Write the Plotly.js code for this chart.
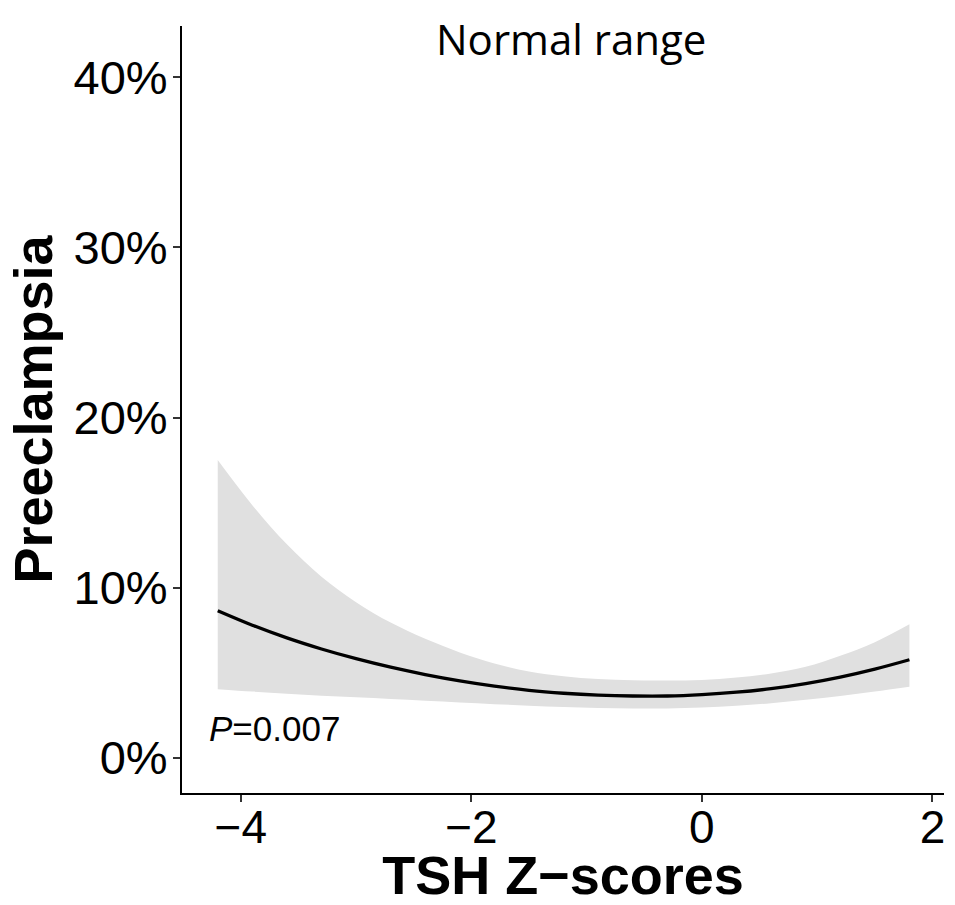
<!DOCTYPE html>
<html>
<head>
<meta charset="utf-8">
<script src="https://cdn.plot.ly/plotly-3.0.1.min.js"></script>
<style>html,body{margin:0;padding:0;background:#fff;}#chart{width:955px;height:905px;}</style>
</head>
<body>
<div id="chart"></div>
<script>
const tshZ = [-4.2, -3.9, -3.6, -3.3, -3.0, -2.7, -2.4, -2.1, -1.8, -1.5, -1.2, -0.9, -0.6, -0.3, 0, 0.3, 0.6, 0.9, 1.2, 1.5, 1.8];
const fitPct = [8.65, 7.8, 7.05, 6.4, 5.83, 5.33, 4.9, 4.53, 4.22, 3.97, 3.8, 3.69, 3.64, 3.64, 3.72, 3.86, 4.07, 4.37, 4.75, 5.22, 5.77];
const upperPct = [17.5, 14.85, 12.55, 10.65, 9.15, 7.95, 7.0, 6.2, 5.55, 5.08, 4.8, 4.63, 4.56, 4.55, 4.58, 4.72, 4.96, 5.35, 6.0, 6.8, 7.85];
const lowerPct = [4.04, 3.9, 3.77, 3.66, 3.56, 3.46, 3.36, 3.26, 3.16, 3.07, 2.99, 2.93, 2.9, 2.91, 2.96, 3.06, 3.22, 3.42, 3.64, 3.9, 4.18];
const xTicks = [-4, -2, 0, 2];
const yTicks = [0, 10, 20, 30, 40];
const yTickLabels = ['0%', '10%', '20%', '30%', '40%'];
const panelLabel = 'Normal range';
const pLabel = '<i>P</i>=0.007';

const traces = [
  {x: tshZ, y: lowerPct, type: 'scatter', mode: 'lines', line: {width: 0, shape: 'spline', color: 'rgba(0,0,0,0)'}, hoverinfo: 'skip', showlegend: false},
  {x: tshZ, y: upperPct, type: 'scatter', mode: 'lines', fill: 'tonexty', fillcolor: '#e0e0e0', line: {width: 0, shape: 'spline', color: 'rgba(0,0,0,0)'}, hoverinfo: 'skip', showlegend: false},
  {x: tshZ, y: fitPct, type: 'scatter', mode: 'lines', line: {width: 3.3, shape: 'spline', color: '#000'}, showlegend: false}
];

const layout = {
  width: 955, height: 905,
  paper_bgcolor: '#fff', plot_bgcolor: '#fff',
  margin: {l: 182, r: 11, t: 26, b: 112},
  font: {family: 'Liberation Sans, Arial, sans-serif', color: '#000'},
  xaxis: {
    range: [-4.51, 2.10], tickvals: xTicks, ticks: 'outside', ticklen: 7, tickwidth: 2, tickcolor: '#333',
    showline: true, linecolor: '#000', linewidth: 2, showgrid: false, zeroline: false,
    tickfont: {size: 46, color: '#000'}, ticklabelstandoff: -14,
    title: {text: 'TSH Z\u2212scores', font: {size: 54, color: '#000', family: 'Liberation Sans, Arial, sans-serif', weight: 'bold'}, standoff: 6}
  },
  yaxis: {
    range: [-2.06, 43.0], tickvals: yTicks, ticktext: yTickLabels, ticks: 'outside', ticklen: 7, tickwidth: 2, tickcolor: '#333',
    showline: true, linecolor: '#000', linewidth: 2, showgrid: false, zeroline: false,
    tickfont: {size: 47, color: '#000'}, ticklabelstandoff: -4,
    title: {text: 'Preeclampsia', font: {size: 54, color: '#000', family: 'Liberation Sans, Arial, sans-serif', weight: 'bold'}, standoff: 4}
  },
  annotations: [
    {text: panelLabel, xref: 'paper', yref: 'paper', x: 0.511, y: 0.984, xanchor: 'center', yanchor: 'middle', showarrow: false, font: {family: 'Open Sans, sans-serif', size: 42, color: '#000'}},
    {text: pLabel, xref: 'x', yref: 'y', x: -4.29, y: 1.72, xanchor: 'left', yanchor: 'middle', showarrow: false, font: {family: 'Liberation Sans, Arial, sans-serif', size: 35, color: '#000'}}
  ]
};

Plotly.newPlot('chart', traces, layout, {displayModeBar: false, staticPlot: true});
</script>
</body>
</html>
